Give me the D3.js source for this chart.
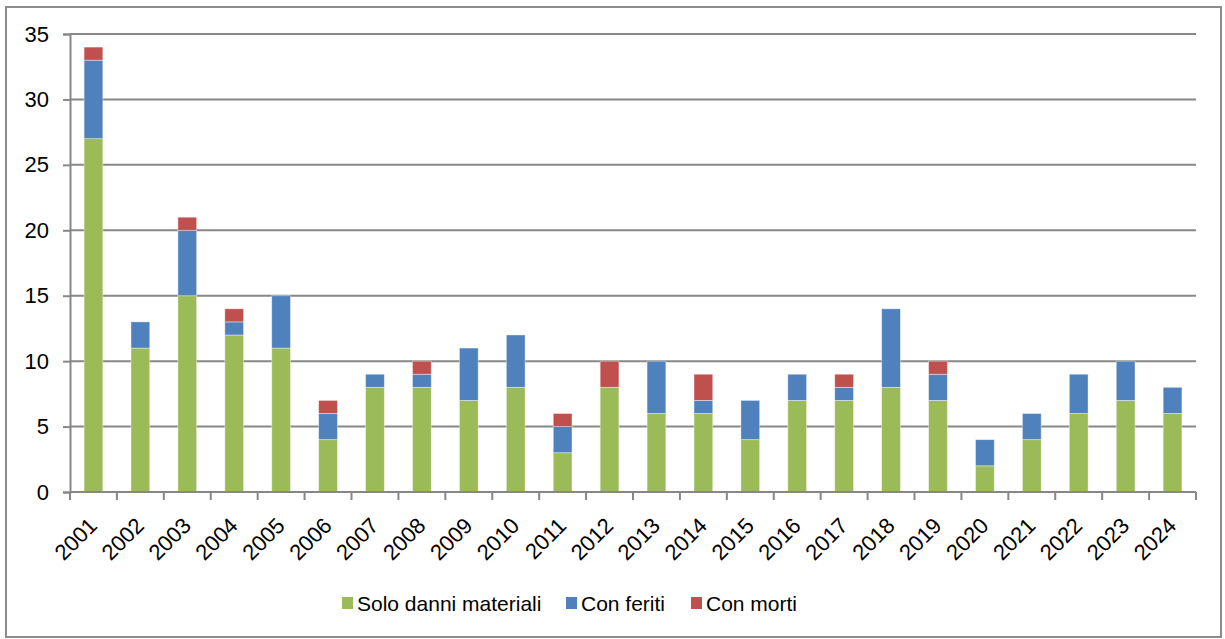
<!DOCTYPE html>
<html>
<head>
<meta charset="utf-8">
<script src="https://cdn.jsdelivr.net/npm/d3@7"></script>
<style>
  body { margin: 0; background: #fff; }
  svg { display: block; font-family: "Liberation Sans", Arial, sans-serif; }
</style>
</head>
<body>
<svg id="chart" width="1225" height="639"></svg>
<script>
const years = ["2001","2002","2003","2004","2005","2006","2007","2008","2009","2010","2011","2012",
  "2013","2014","2015","2016","2017","2018","2019","2020","2021","2022","2023","2024"];
const soloDanni = [27, 11, 15, 12, 11, 4, 8, 8, 7, 8, 3, 8, 6, 6, 4, 7, 7, 8, 7, 2, 4, 6, 7, 6];
const conFeriti = [6, 2, 5, 1, 4, 2, 1, 1, 4, 4, 2, 0, 4, 1, 3, 2, 1, 6, 2, 2, 2, 3, 3, 2];
const conMorti  = [1, 0, 1, 1, 0, 1, 0, 1, 0, 0, 1, 2, 0, 2, 0, 0, 1, 0, 1, 0, 0, 0, 0, 0];
const yTicks = [0, 5, 10, 15, 20, 25, 30, 35];

const seriesNames = ["Solo danni materiali", "Con feriti", "Con morti"];
const colors = ["#9BBB59", "#4F81BD", "#C0504D"];

const rows = years.map((y, i) => ({ year: y, a: soloDanni[i], b: conFeriti[i], c: conMorti[i] }));
const stacked = d3.stack().keys(["a", "b", "c"])(rows);

const svg = d3.select("#chart");

// outer frame
svg.append("rect")
  .attr("x", 6).attr("y", 7)
  .attr("width", 1215).attr("height", 630)
  .attr("fill", "none")
  .attr("stroke", "#8c8c8c")
  .attr("stroke-width", 2);

const m = { left: 70, right: 1196, top: 34, bottom: 492 };

const x = d3.scaleBand()
  .domain(years)
  .range([m.left, m.right])
  .paddingInner(0.6)
  .paddingOuter(0.3);

const y = d3.scaleLinear()
  .domain([0, 35])
  .range([m.bottom, m.top]);

// gridlines
svg.append("g")
  .selectAll("line")
  .data(yTicks.filter(d => d > 0))
  .enter().append("line")
  .attr("x1", m.left).attr("x2", m.right)
  .attr("y1", d => y(d)).attr("y2", d => y(d))
  .attr("stroke", "#878787")
  .attr("stroke-width", 2);

// bars
svg.append("g")
  .selectAll("g")
  .data(stacked)
  .enter().append("g")
  .attr("fill", (d, i) => colors[i])
  .selectAll("rect")
  .data(d => d)
  .enter().append("rect")
  .attr("x", d => x(d.data.year))
  .attr("width", x.bandwidth())
  .attr("y", d => y(d[1]))
  .attr("height", d => y(d[0]) - y(d[1]))
  .attr("stroke", "#ffffff")
  .attr("stroke-opacity", 0.5)
  .attr("stroke-width", 0.8);

// y axis
const yAxis = svg.append("g")
  .attr("transform", `translate(${m.left},0)`)
  .call(d3.axisLeft(y).tickValues(yTicks).tickSize(7).tickPadding(14));
yAxis.select(".domain").attr("stroke", "#878787").attr("stroke-width", 2);
yAxis.selectAll(".tick line").attr("stroke", "#878787").attr("stroke-width", 2);
yAxis.selectAll(".tick text").attr("font-size", 22).attr("fill", "#000");

// x axis: ticks at category boundaries
const boundaries = d3.range(years.length + 1).map(i => m.left + i * (m.right - m.left) / years.length);
svg.append("line")
  .attr("x1", m.left).attr("x2", m.right)
  .attr("y1", m.bottom).attr("y2", m.bottom)
  .attr("stroke", "#878787").attr("stroke-width", 2);
svg.append("g")
  .selectAll("line")
  .data(boundaries)
  .enter().append("line")
  .attr("x1", d => d).attr("x2", d => d)
  .attr("y1", m.bottom).attr("y2", m.bottom + 8)
  .attr("stroke", "#878787").attr("stroke-width", 2);

svg.append("g")
  .selectAll("text")
  .data(years)
  .enter().append("text")
  .attr("transform", d => `translate(${x(d) + x.bandwidth() / 2 + 5},${m.bottom + 35}) rotate(-45)`)
  .attr("text-anchor", "end")
  .attr("font-size", 22)
  .attr("fill", "#000")
  .text(d => d);

// legend
const legendItems = [
  { name: seriesNames[0], color: colors[0], x: 342 },
  { name: seriesNames[1], color: colors[1], x: 566 },
  { name: seriesNames[2], color: colors[2], x: 691 }
];
const legend = svg.append("g");
legend.selectAll("rect")
  .data(legendItems)
  .enter().append("rect")
  .attr("x", d => d.x).attr("y", 597)
  .attr("width", 11).attr("height", 12)
  .attr("fill", d => d.color);
legend.selectAll("text")
  .data(legendItems)
  .enter().append("text")
  .attr("x", d => d.x + 15).attr("y", 611)
  .attr("font-size", 21)
  .attr("fill", "#000")
  .text(d => d.name);
</script>
</body>
</html>
